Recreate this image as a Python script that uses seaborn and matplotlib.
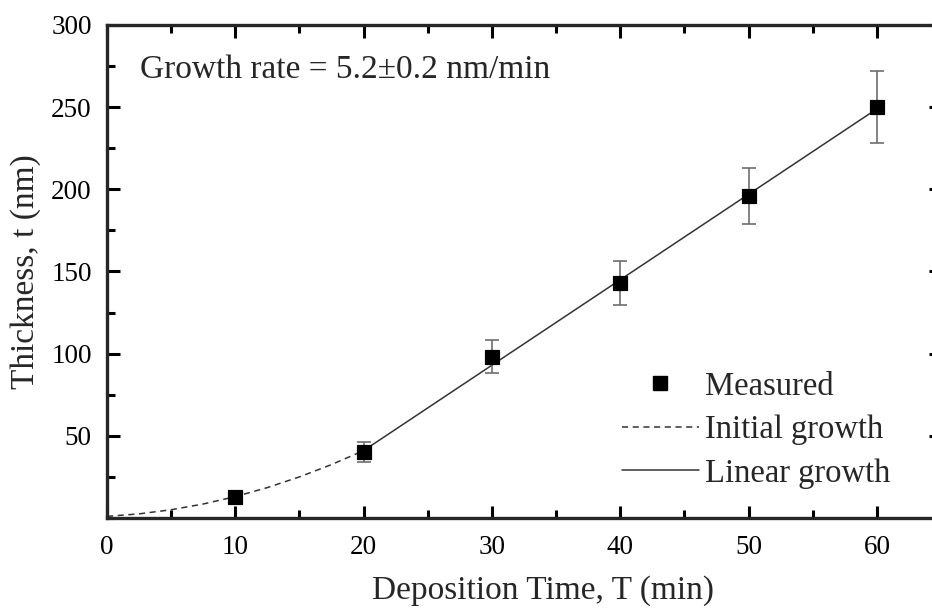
import numpy as np
import pandas as pd
import matplotlib
matplotlib.use("Agg")
import matplotlib.pyplot as plt
from matplotlib.ticker import MultipleLocator, FixedLocator
from matplotlib.lines import Line2D
import seaborn as sns

# Measured film thickness vs deposition time
time_min = [10, 20, 30, 40, 50, 60]
thickness_nm = [13, 40, 98, 143, 196, 250]
thickness_err = [2, 6, 10, 13.5, 17, 22]

# Initial (non-linear) growth curve
init_time = [0, 2.5, 5, 7.5, 10, 12.5, 15, 17.5, 20]
init_thick = [1, 2.5, 5, 8.5, 13, 18.5, 25, 32.5, 41]

# Linear growth fit
lin_time = [20, 60]
lin_thick = [41, 249]

x_ticks = [0, 10, 20, 30, 40, 50, 60]
y_ticks = [50, 100, 150, 200, 250, 300]

sns.set_style("ticks")
plt.rcParams["font.family"] = ["Liberation Serif", "DejaVu Serif"]

fig = plt.figure(figsize=(9.32, 6.14), dpi=100)
ax = fig.add_axes([0.1148, 0.1564, 0.895, 0.8029])

meas = pd.DataFrame({"T": time_min, "t": thickness_nm})
init = pd.DataFrame({"T": init_time, "t": init_thick})
lin = pd.DataFrame({"T": lin_time, "t": lin_thick})

sns.lineplot(data=init, x="T", y="t", ax=ax, color="#333333", lw=1.1,
             linestyle=(0, (4, 3)), sort=False)
sns.lineplot(data=lin, x="T", y="t", ax=ax, color="#333333", lw=1.1, sort=False)
ax.errorbar(time_min, thickness_nm, yerr=thickness_err, fmt="none",
            ecolor="#6e6e6e", elinewidth=1.2, capsize=5, capthick=1.2, zorder=3)
sns.scatterplot(data=meas, x="T", y="t", ax=ax, marker="s", s=115,
                color="black", edgecolor="black", zorder=4)

ax.set_xlim(0, 65)
ax.set_ylim(0, 300)
ax.xaxis.set_major_locator(FixedLocator(x_ticks))
ax.xaxis.set_minor_locator(MultipleLocator(5))
ax.yaxis.set_major_locator(FixedLocator(y_ticks))
ax.yaxis.set_minor_locator(MultipleLocator(25))
ax.set_xticklabels([str(v) for v in x_ticks])
ax.set_yticklabels([str(v) for v in y_ticks])

for s in ax.spines.values():
    s.set_linewidth(2.4)
    s.set_visible(True)
ax.tick_params(which="both", direction="in", top=True, right=True,
               width=2.2, labelsize=19.5, colors="black")
ax.tick_params(axis="x", pad=12)
ax.tick_params(axis="y", pad=11)
ax.tick_params(which="major", length=9)
ax.tick_params(which="minor", length=5.5)

ax.set_xlabel("Deposition Time, T (min)", fontsize=24)
ax.set_ylabel("Thickness, t (nm)", fontsize=24)
ax.xaxis.set_label_coords(0.523, -0.117)
ax.yaxis.set_label_coords(-0.079, 0.5)

ax.text(2.6, 273, "Growth rate = 5.2\u00b10.2 nm/min", fontsize=24,
        ha="left", va="center")

handles = [
    Line2D([], [], marker="s", color="black", linestyle="none", markersize=10),
    Line2D([], [], color="#333333", lw=1.1, linestyle=(0, (4, 3))),
    Line2D([], [], color="#333333", lw=1.1),
]
ax.legend(handles, ["Measured", "Initial growth", "Linear growth"],
          loc="upper left", bbox_to_anchor=(0.6175, 0.298), frameon=False,
          fontsize=23.5, handlelength=2.35, handletextpad=0.2,
          labelspacing=0.4, borderpad=0, borderaxespad=0)

fig.savefig("out.png", dpi=100)
